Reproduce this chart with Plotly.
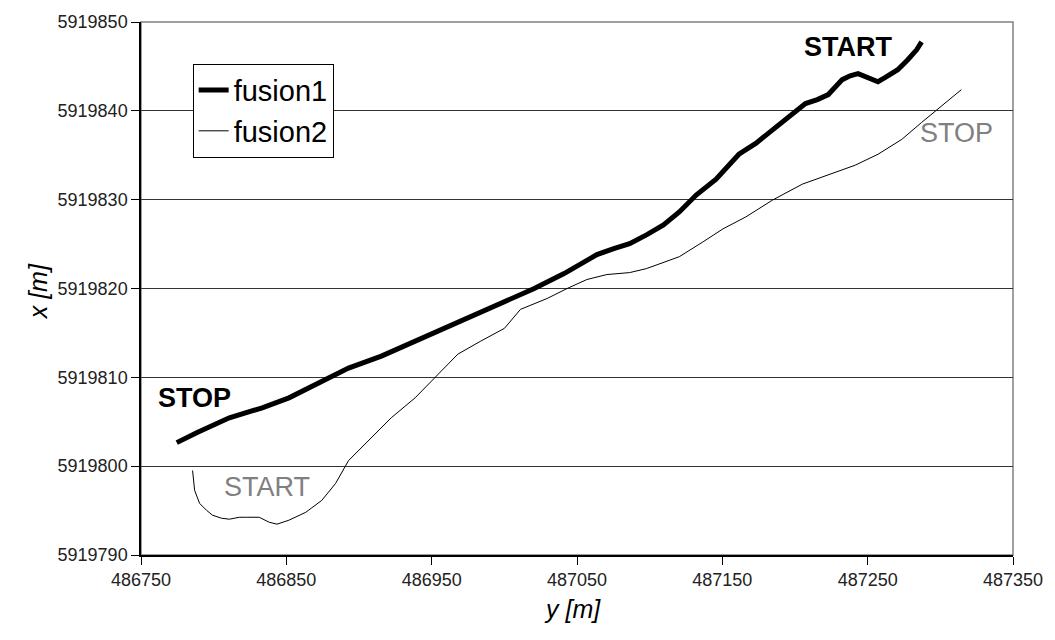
import plotly.graph_objects as go

# fusion1 (thick) : y [m] easting, x [m] northing
f1_y = [486774.6, 486788.3, 486810.8, 486833.4, 486851.8, 486870.3, 486892.8, 486915.4,
        486938.6, 486961.2, 486983.7, 487007.0, 487020.6, 487041.1, 487063.7, 487075.3,
        487086.2, 487097.8, 487109.5, 487120.4, 487132.0, 487145.7, 487161.4, 487173.0,
        487184.6, 487196.9, 487207.2, 487215.4, 487222.9, 487232.5, 487237.9, 487243.4,
        487250.2, 487257.1, 487261.9, 487270.7, 487277.6, 487283.7, 487287.1]
f1_x = [5919802.65, 5919803.77, 5919805.45, 5919806.57, 5919807.69, 5919809.25, 5919811.04, 5919812.39,
        5919814.07, 5919815.75, 5919817.42, 5919819.10, 5919820.00, 5919821.68, 5919823.81, 5919824.48,
        5919825.04, 5919826.04, 5919827.16, 5919828.62, 5919830.52, 5919832.31, 5919835.11, 5919836.34,
        5919837.91, 5919839.48, 5919840.82, 5919841.27, 5919841.83, 5919843.51, 5919843.95, 5919844.18,
        5919843.73, 5919843.28, 5919843.73, 5919844.63, 5919845.75, 5919846.87, 5919847.76]

# fusion2 (thin)
f2_y = [486785.5, 486786.2, 486786.9, 486790.3, 486795.1, 486799.2, 486805.4, 486810.8,
        486817.7, 486822.4, 486831.3, 486838.2, 486843.6, 486851.8, 486863.4, 486874.4,
        486883.9, 486892.8, 486901.7, 486913.3, 486922.2, 486938.6, 486954.3, 486968.0,
        486983.7, 487000.1, 487011.1, 487029.5, 487043.2, 487056.8, 487070.5, 487086.2,
        487097.8, 487111.5, 487120.4, 487136.8, 487150.5, 487166.2, 487184.6, 487205.1,
        487222.9, 487241.4, 487257.1, 487273.5, 487287.1, 487298.1, 487314.5]
f2_x = [5919799.51, 5919798.17, 5919797.27, 5919795.82, 5919795.03, 5919794.48, 5919794.14, 5919794.03,
        5919794.25, 5919794.25, 5919794.25, 5919793.69, 5919793.47, 5919793.92, 5919794.81, 5919796.15,
        5919798.06, 5919800.63, 5919802.09, 5919803.99, 5919805.45, 5919807.69, 5919810.37, 5919812.61,
        5919814.07, 5919815.52, 5919817.65, 5919818.88, 5919820.00, 5919821.01, 5919821.57, 5919821.79,
        5919822.24, 5919823.02, 5919823.58, 5919825.26, 5919826.72, 5919828.06, 5919829.96, 5919831.75,
        5919832.76, 5919833.88, 5919835.11, 5919836.79, 5919838.69, 5919840.15, 5919842.39]

x_ticks = [486750, 486850, 486950, 487050, 487150, 487250, 487350]
y_ticks = [5919790, 5919800, 5919810, 5919820, 5919830, 5919840, 5919850]

FONT = "Liberation Sans, Arial, sans-serif"

fig = go.Figure()
fig.add_trace(go.Scatter(x=f1_y, y=f1_x, mode="lines", name="fusion1",
                         line=dict(color="black", width=5)))
fig.add_trace(go.Scatter(x=f2_y, y=f2_x, mode="lines", name="fusion2",
                         line=dict(color="black", width=1)))

# plot frame (gray top/right)
fig.add_shape(type="rect", xref="paper", yref="paper", x0=0, y0=0, x1=1, y1=1,
              line=dict(color="#808080", width=1.5), layer="below")

annos = [
    dict(x=487236.6, y=5919847.2, text="<b>START</b>", color="black"),
    dict(x=486786.9, y=5919807.7, text="<b>STOP</b>", color="black"),
    dict(x=486836.8, y=5919797.6, text="START", color="#808080"),
    dict(x=487311.1, y=5919837.5, text="STOP", color="#808080"),
]
for a in annos:
    fig.add_annotation(x=a["x"], y=a["y"], xref="x", yref="y", text=a["text"],
                       showarrow=False, font=dict(family=FONT, size=27, color=a["color"]))

W, H = 1055, 640
ml, mr, mt, mb = 141, 36, 19, 85
pw, ph = W - ml - mr, H - mt - mb

fig.add_annotation(x=(22 - ml) / pw, y=1 - (290 - mt) / ph, xref="paper", yref="paper",
                   text="<i>x [m]</i>", showarrow=False, textangle=-90,
                   font=dict(family=FONT, size=25, color="black"))
fig.add_annotation(x=(575 - ml) / pw, y=1 - (625 - mt) / ph, xref="paper", yref="paper",
                   text="<i>y [m]</i>", showarrow=False,
                   font=dict(family=FONT, size=25, color="black"))

fig.update_layout(
    width=W, height=H,
    margin=dict(l=ml, r=mr, t=mt, b=mb, pad=0),
    paper_bgcolor="white", plot_bgcolor="white",
    font=dict(family=FONT, size=18, color="black"),
    showlegend=True,
    legend=dict(x=(193 - ml) / pw, y=1 - (61 - mt) / ph, xanchor="left", yanchor="top",
                bgcolor="white", bordercolor="black", borderwidth=1,
                font=dict(family=FONT, size=29, color="black"),
                tracegroupgap=0, itemwidth=30),
)
fig.update_xaxes(range=[486750, 487350], tickvals=x_ticks, ticktext=[str(v) for v in x_ticks],
                 showgrid=False, zeroline=False, showline=True, linecolor="black", linewidth=1.5,
                 ticks="outside", ticklen=8, tickcolor="black", tickwidth=1,
                 tickfont=dict(family=FONT, size=18, color="#222222"))
fig.update_yaxes(range=[5919790, 5919850], tickvals=y_ticks, ticktext=[str(v) for v in y_ticks],
                 showgrid=True, gridcolor="#333333", gridwidth=1.2, zeroline=False,
                 showline=True, linecolor="black", linewidth=1.5,
                 ticks="outside", ticklen=8, tickcolor="black", tickwidth=1,
                 tickfont=dict(family=FONT, size=18, color="#222222"))

fig.write_html("out.html")
